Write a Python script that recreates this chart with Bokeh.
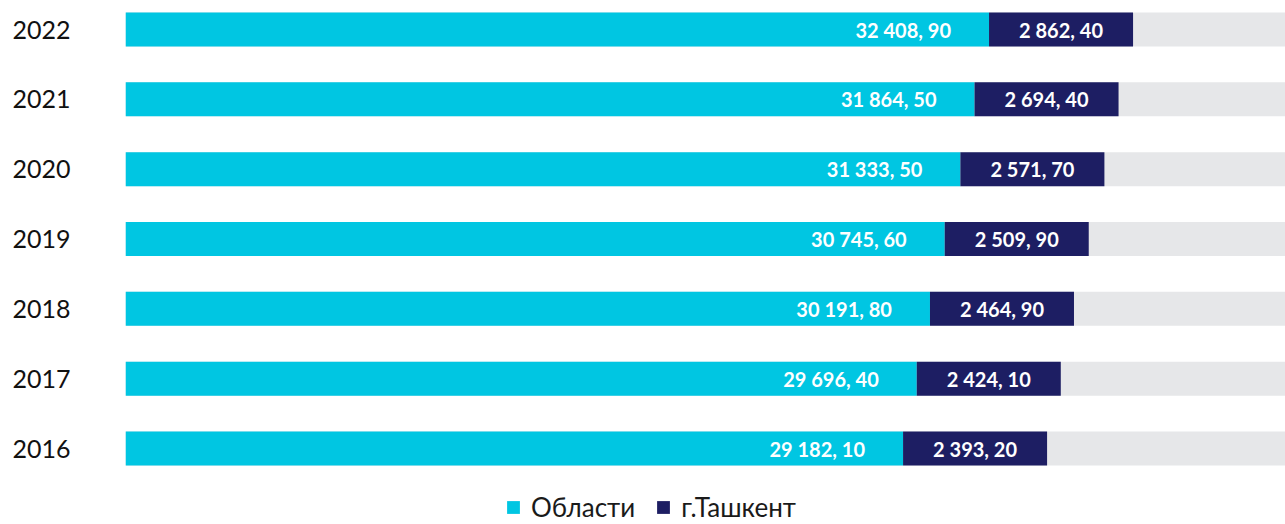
from bokeh.plotting import figure
from bokeh.models import Range1d, FixedTicker, ColumnDataSource
from bokeh.core.properties import value
from bokeh.embed import file_html
from bokeh.resources import INLINE

# ---- data ----
years = ["2016", "2017", "2018", "2019", "2020", "2021", "2022"]
oblasti = [29182.10, 29696.40, 30191.80, 30745.60, 31333.50, 31864.50, 32408.90]
tashkent = [2393.20, 2424.10, 2464.90, 2509.90, 2571.70, 2694.40, 2862.40]
series_names = ["Области", "г.Ташкент"]

# ---- style ----
CYAN = "#00c6e2"
NAVY = "#1d1e63"
GREY = "#e6e7e9"
FONT = "Lato"
XMAX = 43535          # right end of the grey track
DARK_W = 5405         # the Tashkent segment is drawn with a fixed width in the original
BAR_H = 0.487


def fmt(v):
    s = f"{v:,.2f}"
    return s.replace(",", " ").replace(".", ", ")


ypos = list(range(len(years)))
src = ColumnDataSource(dict(
    y=ypos,
    obl=oblasti,
    obl_end=[o + DARK_W for o in oblasti],
    mid=[o + DARK_W / 2 for o in oblasti],
    xmax=[XMAX] * len(years),
    zero=[0] * len(years),
    obl_lbl=[fmt(v) for v in oblasti],
    tash_lbl=[fmt(v) for v in tashkent],
))

p = figure(width=1285, height=524,
           x_range=Range1d(0, XMAX), y_range=Range1d(-1.0883, 6.4153),
           output_backend="svg", toolbar_location=None,
           x_axis_location=None,
           min_border_left=125, min_border_right=0,
           min_border_top=0, min_border_bottom=0)
p.outline_line_color = None
p.xgrid.visible = False
p.ygrid.visible = False

p.hbar(y="y", left="zero", right="xmax", height=BAR_H, source=src,
       fill_color=GREY, line_color=None)
p.hbar(y="y", left="zero", right="obl", height=BAR_H, source=src,
       fill_color=CYAN, line_color=None, legend_label=series_names[0])
p.hbar(y="y", left="obl", right="obl_end", height=BAR_H, source=src,
       fill_color=NAVY, line_color=None, legend_label=series_names[1])

p.text(x="obl", y="y", text="obl_lbl", source=src, x_offset=-38,
       text_align="right", text_baseline="middle", text_color="white",
       text_font=value(FONT), text_font_style="bold", text_font_size="20px")
p.text(x="mid", y="y", text="tash_lbl", source=src,
       text_align="center", text_baseline="middle", text_color="white",
       text_font=value(FONT), text_font_style="bold", text_font_size="20px")

ax = p.yaxis[0]
ax.ticker = FixedTicker(ticks=ypos)
ax.major_label_overrides = {i: y for i, y in zip(ypos, years)}
ax.axis_line_color = None
ax.major_tick_line_color = None
ax.minor_tick_line_color = None
ax.major_tick_in = 0
ax.major_tick_out = 0
ax.major_label_standoff = 55
ax.major_label_text_font = FONT
ax.major_label_text_font_size = "25px"
ax.major_label_text_color = "#111111"

lg = p.legend[0]
lg.location = (380, 1)
lg.orientation = "horizontal"
lg.glyph_width = 16
lg.glyph_height = 16
lg.label_standoff = 10
lg.spacing = 20
lg.padding = 0
lg.margin = 0
lg.border_line_color = None
lg.background_fill_alpha = 0
lg.label_text_font = FONT
lg.label_text_font_size = "26px"
lg.label_text_color = "#1a1a1a"

open("out.html", "w").write(file_html(p, INLINE))
